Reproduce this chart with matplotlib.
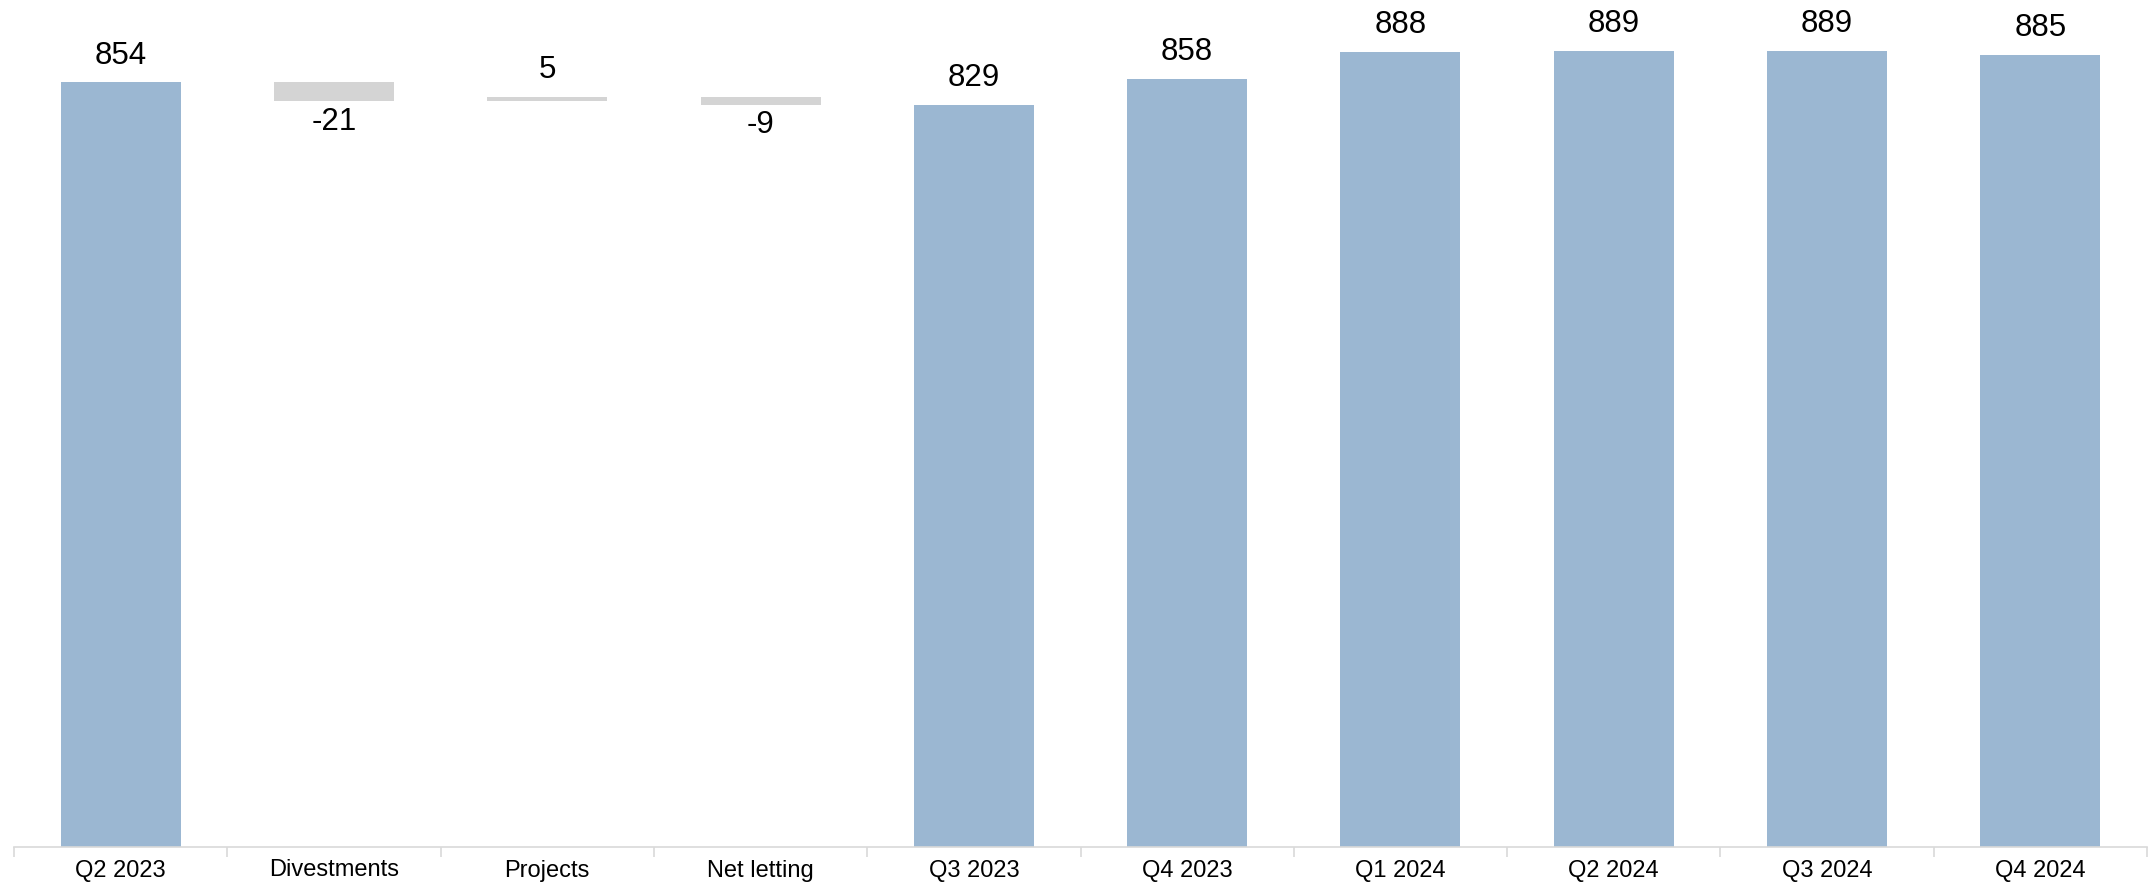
import matplotlib
matplotlib.use("Agg")
import matplotlib.pyplot as plt
import numpy as np

categories = ["Q2 2023", "Divestments", "Projects", "Net letting", "Q3 2023",
              "Q4 2023", "Q1 2024", "Q2 2024", "Q3 2024", "Q4 2024"]
values = [854, -21, 5, -9, 829, 858, 888, 889, 889, 885]
is_total = [True, False, False, False, True, True, True, True, True, True]

blue = "#9bb7d2"
grey = "#d4d4d4"

plt.rcParams['font.family'] = ['Liberation Sans', 'DejaVu Sans']

W, H = 2154, 884
fig = plt.figure(figsize=(W / 100, H / 100), dpi=100)
left, right, base = 14, 2147, 847
ax = fig.add_axes([left / W, (H - base) / H, (right - left) / W, base / H])

x = np.arange(len(categories))
bottoms = []
heights = []
colors = []
running = 0
for v, t in zip(values, is_total):
    if t:
        bottoms.append(0)
        heights.append(v)
        colors.append(blue)
        running = v
    else:
        if v >= 0:
            bottoms.append(running)
            heights.append(v)
        else:
            bottoms.append(running + v)
            heights.append(-v)
        running += v
        colors.append(grey)

ax.bar(x, heights, bottom=bottoms, width=0.5625, color=colors, linewidth=0)

for i, (v, b, h, t) in enumerate(zip(values, bottoms, heights, is_total)):
    if t or v >= 0:
        ax.annotate(f"{v}", (x[i], b + h), xytext=(0, 8.5), textcoords="offset points",
                    ha="center", va="bottom", fontsize=22.5)
    else:
        ax.annotate(f"{v}", (x[i], b), xytext=(0, -4), textcoords="offset points",
                    ha="center", va="top", fontsize=22.5)

ax.set_xlim(-0.5, len(categories) - 0.5)
ax.set_ylim(0, 946)
ax.set_yticks([])
for s in ["top", "right", "left"]:
    ax.spines[s].set_visible(False)
ax.spines["bottom"].set_color("#d9d9d9")
ax.spines["bottom"].set_linewidth(1.2)

ax.set_xticks(x)
ax.set_xticklabels(categories, fontsize=17)
ax.tick_params(axis="x", which="major", length=0, pad=9)
ax.set_xticks(np.arange(-0.5, len(categories), 1.0), minor=True)
ax.tick_params(axis="x", which="minor", length=7, color="#d9d9d9", width=1.2)

fig.savefig("out.png", dpi=100)
